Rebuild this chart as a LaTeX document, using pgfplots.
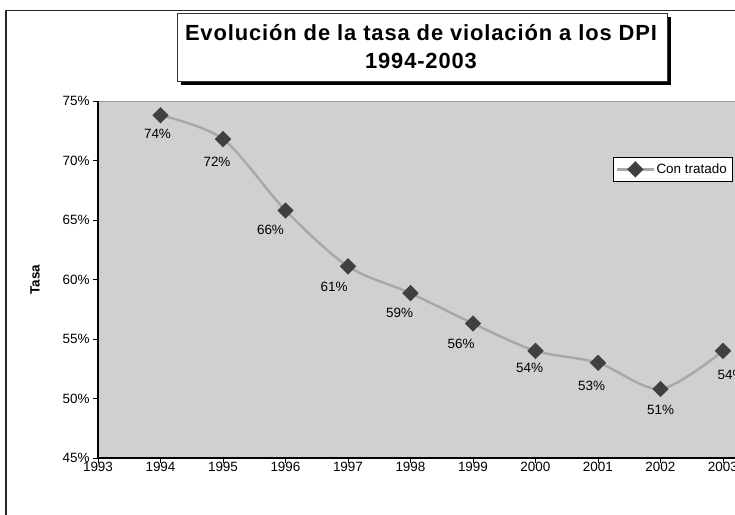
\documentclass[border=0pt]{standalone}
\usepackage{fontspec}
\setmainfont{Liberation Sans}
\newfontfamily\titlefont[LetterSpace=4]{Liberation Sans}
\usepackage{pgfplots}
\usepackage{pgfplotstable}
\pgfplotsset{compat=1.18}
\definecolor{plotgray}{HTML}{D0D0D0}
\definecolor{linegray}{HTML}{A8A8A8}
\definecolor{markgray}{HTML}{404040}

% year, rate in %, label offsets (bp)
\pgfplotstableread{
year rate  dx    dy
1994 73.8  -3   -19
1995 71.8  -6   -23
1996 65.8  -15  -19
1997 61.1  -14  -20
1998 58.85 -11  -20
1999 56.3  -12  -20
2000 54.0  -6   -17
2001 53.0  -6.5 -23
2002 50.8   0   -21
2003 54.0   8   -24
}\tasa

\begin{document}
\begin{tikzpicture}
\path[use as bounding box] (0bp,0bp) rectangle (735bp,515bp);
\clip (0bp,0bp) rectangle (735bp,515bp);
\fill[white] (0bp,0bp) rectangle (735bp,515bp);
% chart frame
\draw[line width=1.5bp,black!85] (6bp,-20bp) -- (6bp,504.3bp) -- (760bp,504.3bp);
\begin{axis}[
  at={(98bp,57bp)}, anchor=south west,
  scale only axis,
  width=687.5bp, height=357bp,
  xmin=1993, xmax=2004,
  ymin=45, ymax=75,
  xtick={1993,1994,...,2004},
  ytick={45,50,...,75},
  axis lines=left,
  axis line style={-,black,line width=1.1bp},
  axis background/.style={fill=plotgray,draw=gray!80},
  tick align=outside,
  major tick length=5bp,
  tick style={black,line width=0.8bp},
  /pgf/number format/assume math mode=true,
  /pgf/number format/1000 sep={},
  yticklabel={\pgfmathprintnumber{\tick}\%},
  ticklabel style={font=\fontsize{13.5}{15}\selectfont},
  xticklabel style={yshift=4bp},
  ylabel={\bfseries Tasa},
  ylabel style={at={(axis description cs:-0.0916,0.499)},anchor=center,
    font=\fontsize{13.5}{15}\selectfont},
  legend style={at={(axis description cs:0.749,0.843)},anchor=north west,
    draw=black,fill=white,font=\fontsize{13.5}{15}\selectfont,
    inner ysep=4.5bp,inner xsep=3bp,
    legend image code/.code={\draw[mark repeat=2,mark phase=2]
      plot coordinates {(0bp,0bp) (18bp,0bp) (36bp,0bp)};}},
  clip=false,
]
\addplot[linegray,line width=2.4bp,smooth,
  mark=diamond*,mark size=6.5bp,
  mark options={fill=markgray,draw=markgray,xscale=1.333,solid},
  point meta=y,
  visualization depends on={\thisrow{dx}\as\dx},
  visualization depends on={\thisrow{dy}\as\dy},
  nodes near coords={\pgfmathprintnumber[fixed,precision=0]{\pgfplotspointmeta}\%},
  every node near coord/.style={anchor=center,xshift=\dx bp,yshift=\dy bp,
    font=\fontsize{13.5}{15}\selectfont,text=black},
] table[x=year,y=rate] {\tasa};
\addlegendentry{Con tratado}
\end{axis}
% title box with shadow
\fill[black] (181bp,430bp) rectangle (671bp,498bp);
\draw[fill=white,draw=black!80,line width=0.8bp] (177bp,434bp) rectangle (667bp,502bp);
\node[align=center,font=\titlefont\bfseries\fontsize{22}{28}\selectfont]
  at (421bp,468.5bp) {Evolución de la tasa de violación a los DPI\\1994-2003};
\end{tikzpicture}
\end{document}
